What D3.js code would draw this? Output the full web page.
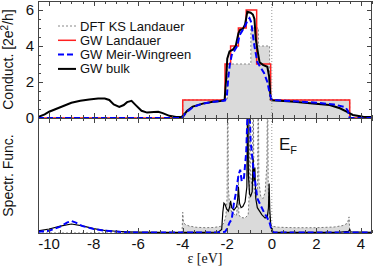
<!DOCTYPE html>
<html>
<head>
<meta charset="utf-8">
<script src="https://cdn.jsdelivr.net/npm/d3@7"></script>
<style>
  body { margin: 0; background: #fff; }
  svg { display: block; font-family: "Liberation Sans", Arial, sans-serif; }
</style>
</head>
<body>
<svg id="chart" width="374" height="266"></svg>
<script>
// ---- Conductance (top panel), step functions ----
const dftCondE = [-10.5, -4, -2, -0.94, -0.6, -0.1, 3.5, 4.5];
const dftCondG = [0, 1, 3, 5, 4, 1, 0, 0];

const gwCondE = [-10.5, -4, -2.1, -1.85, -1.5, -1.15, -0.68, -0.05, 3.5, 4.5];
const gwCondG = [0, 1, 3, 4, 5, 6, 3, 1, 0, 0];

// Meir-Wingreen conductance
const mwCondE = [-10.5, -4.02, -4.0, -3.85, -3.6, -3.3, -3.0, -2.5, -2.1, -2.02, -1.95, -1.88, -1.8, -1.7, -1.55, -1.45, -1.35, -1.2, -1.1, -1.0, -0.92, -0.85, -0.78, -0.65, -0.5, -0.35, -0.2, -0.1, -0.02, 0.2, 1.0, 2.0, 2.8, 3.3, 3.42, 3.48, 3.55, 4.5];
const mwCondG = [0, 0, 0.05, 0.3, 0.55, 0.72, 0.82, 0.92, 0.97, 1.2, 2.3, 3.0, 3.5, 3.7, 4.0, 4.6, 4.8, 5.1, 5.4, 5.55, 5.3, 4.6, 4.0, 3.1, 2.8, 2.5, 2.0, 1.4, 1.05, 0.98, 0.93, 0.85, 0.75, 0.6, 0.4, 0.05, 0, 0];

// bulk conductance
const bulkCondE = [-10.5, -10.2, -10.0, -9.5, -9.0, -8.6, -8.2, -7.8, -7.5, -7.3, -7.1, -6.85, -6.65, -6.5, -6.3, -6.1, -5.85, -5.6, -5.3, -5.1, -4.9, -4.6, -4.3, -4.1, -4.0, -3.8, -3.55, -3.1, -2.65, -2.3, -2.12, -2.06, -2.0, -1.9, -1.75, -1.62, -1.5, -1.42, -1.3, -1.2, -1.1, -0.95, -0.85, -0.78, -0.72, -0.62, -0.55, -0.4, -0.2, -0.12, -0.06, 0, 0.36, 1.0, 1.84, 2.6, 3.06, 3.36, 3.64, 4.1, 4.5];
const bulkCondG = [0.05, 0.2, 0.35, 0.6, 0.85, 0.96, 1.03, 1.08, 1.08, 1.0, 0.75, 0.62, 0.72, 0.88, 0.95, 0.7, 0.4, 0.3, 0.33, 0.35, 0.27, 0.12, 0.05, 0.05, 0.1, 0.4, 0.63, 0.8, 0.9, 0.95, 1.0, 2.0, 3.3, 3.7, 3.8, 4.0, 4.7, 4.9, 4.95, 5.2, 5.9, 5.85, 5.75, 5.5, 4.4, 3.6, 3.1, 2.95, 2.85, 2.3, 1.2, 0.98, 0.96, 0.9, 0.81, 0.72, 0.54, 0.35, 0.17, 0.07, 0.05];

// ---- Spectral function (bottom panel), arbitrary units ----
const dftSpecE = [-10.5, -4.03, -4.0, -3.97, -3.9, -3.7, -3.4, -3.0, -2.6, -2.3, -2.15, -2.06, -2.01, -1.98, -1.95, -1.9, -1.8, -1.6, -1.52, -1.5, -1.48, -1.4, -1.2, -1.06, -1.01, -0.99, -0.96, -0.9, -0.86, -0.84, -0.8, -0.72, -0.64, -0.61, -0.58, -0.5, -0.4, -0.3, -0.22, -0.19, -0.16, -0.12, -0.08, -0.04, 0.05, 0.3, 1.0, 2.0, 2.8, 3.2, 3.4, 3.47, 3.5, 3.53, 4.5];
const dftSpecA = [0, 0, 1.8, 1.0, 0.75, 0.6, 0.5, 0.46, 0.48, 0.58, 0.85, 1.5, 3, 14, 4, 2.4, 1.8, 1.5, 2.5, 5.0, 1.6, 1.35, 1.3, 1.6, 3.5, 14, 5, 4.2, 6, 14, 4, 3, 4, 14, 4.5, 3.2, 3.0, 3.5, 6, 14, 4, 2, 1.0, 0.7, 0.58, 0.5, 0.46, 0.46, 0.52, 0.65, 0.85, 1.4, 0.2, 0, 0];

const mwSpecE = [-10.5, -10, -9.5, -9.2, -9.0, -8.8, -8.5, -8, -7.5, -7, -6.5, -6, -4, -2.5, -2.1, -2.0, -1.9, -1.8, -1.7, -1.6, -1.5, -1.42, -1.35, -1.25, -1.15, -1.08, -1.05, -1.0, -0.95, -0.85, -0.75, -0.65, -0.5, -0.35, -0.2, -0.1, 0, 0.1, 3.4, 4.5];
const mwSpecA = [0.1, 0.2, 0.55, 0.9, 1.05, 0.9, 0.6, 0.35, 0.2, 0.12, 0.06, 0.04, 0.04, 0.05, 0.1, 0.4, 0.9, 1.2, 2.6, 3.6, 5.0, 5.5, 4.5, 4.8, 7, 11, 14, 11, 8, 6, 4.5, 3.0, 2.4, 1.8, 1.3, 0.9, 0.2, 0.05, 0.05, 0.04];

const bulkSpecE = [-10.5, -10.0, -9.5, -9.0, -8.5, -8.0, -7.5, -7.0, -6.5, -6.0, -5.0, -4.0, -3.0, -2.4, -2.25, -2.2, -2.15, -2.1, -2.03, -1.95, -1.89, -1.85, -1.8, -1.7, -1.58, -1.53, -1.5, -1.45, -1.38, -1.3, -1.2, -1.12, -1.08, -1.05, -1.0, -0.95, -0.88, -0.84, -0.8, -0.76, -0.72, -0.65, -0.55, -0.45, -0.3, -0.2, -0.15, -0.12, -0.09, -0.05, 0.0, 0.1, 1.0, 2.0, 3.0, 3.45, 3.5, 3.55, 4.5];
const bulkSpecA = [0.18, 0.35, 0.6, 0.78, 0.62, 0.38, 0.22, 0.15, 0.1, 0.07, 0.05, 0.05, 0.05, 0.08, 0.3, 1.8, 2.6, 2.5, 2.1, 1.9, 2.3, 2.8, 2.2, 2.0, 2.3, 3.0, 4.0, 2.6, 2.2, 2.3, 2.7, 4.0, 14, 5.0, 3.4, 3.2, 3.6, 6.5, 4.5, 5.7, 3.0, 2.2, 1.9, 1.6, 1.3, 1.4, 2.2, 4.3, 2.0, 0.8, 0.15, 0.06, 0.05, 0.05, 0.06, 0.15, 0.3, 0.1, 0.05];

const xTickLabels = [-10, -8, -6, -4, -2, 0, 2, 4];
const condTickLabels = [0, 2, 4, 6];

const legendItems = [
  { label: "DFT KS Landauer", color: "#888", width: 1, dash: "2,2" },
  { label: "GW Landauer", color: "#ff2020", width: 1.5, dash: null },
  { label: "GW Meir-Wingreen", color: "#0000ff", width: 2, dash: "6,3" },
  { label: "GW bulk", color: "#000", width: 2, dash: null }
];

const zip = (xs, ys) => xs.map((v, i) => [v, ys[i]]);

const svg = d3.select("#chart");
const left = 38, right = 372, topY = 1, midY = 118, botY = 233;

const x = d3.scaleLinear().domain([-10.5, 4.5]).range([left, right]);
const yC = d3.scaleLinear().domain([0, 6.5]).range([midY, topY]);
const yS = d3.scaleLinear().domain([0, 10]).range([botY, midY]);

const defs = svg.append("defs");
defs.append("clipPath").attr("id", "clipTop")
  .append("rect").attr("x", left).attr("y", topY).attr("width", right - left).attr("height", midY - topY);
defs.append("clipPath").attr("id", "clipBot")
  .append("rect").attr("x", left).attr("y", midY).attr("width", right - left).attr("height", botY - midY);

// top panel
const gTop = svg.append("g").attr("clip-path", "url(#clipTop)");
const stepLine = d3.line().x(d => x(d[0])).y(d => yC(d[1])).curve(d3.curveStepAfter);
const condLine = d3.line().x(d => x(d[0])).y(d => yC(d[1]));
const stepArea = d3.area().x(d => x(d[0])).y0(yC(0)).y1(d => yC(d[1])).curve(d3.curveStepAfter);

gTop.append("path").datum(zip(dftCondE, dftCondG))
  .attr("d", stepArea).attr("fill", "#dadada");
gTop.append("path").datum(zip(dftCondE, dftCondG))
  .attr("d", stepLine).attr("fill", "none").attr("stroke", "#888").attr("stroke-width", 1).attr("stroke-dasharray", "2,2");
gTop.append("path").datum(zip(gwCondE, gwCondG))
  .attr("d", stepLine).attr("fill", "none").attr("stroke", "#ff2020").attr("stroke-width", 1.5);
gTop.append("path").datum(zip(bulkCondE, bulkCondG))
  .attr("d", condLine).attr("fill", "none").attr("stroke", "#000").attr("stroke-width", 2);
gTop.append("path").datum(zip(mwCondE, mwCondG))
  .attr("d", condLine).attr("fill", "none").attr("stroke", "#0000ff").attr("stroke-width", 2).attr("stroke-dasharray", "6,3");

// bottom panel
const gBot = svg.append("g").attr("clip-path", "url(#clipBot)");
const specLine = d3.line().x(d => x(d[0])).y(d => yS(d[1]));
const specArea = d3.area().x(d => x(d[0])).y0(yS(0)).y1(d => yS(d[1]));

gBot.append("path").datum(zip(dftSpecE, dftSpecA))
  .attr("d", specArea).attr("fill", "#dadada");
gBot.append("path").datum(zip(dftSpecE, dftSpecA))
  .attr("d", specLine).attr("fill", "none").attr("stroke", "#777").attr("stroke-width", 1).attr("stroke-dasharray", "2,2");
gBot.append("path").datum(zip(bulkSpecE, bulkSpecA))
  .attr("d", specLine).attr("fill", "none").attr("stroke", "#000").attr("stroke-width", 1.2);
gBot.append("path").datum(zip(mwSpecE, mwSpecA))
  .attr("d", specLine).attr("fill", "none").attr("stroke", "#0000ff").attr("stroke-width", 2).attr("stroke-dasharray", "6,3");

// Fermi level
svg.append("line")
  .attr("x1", x(0)).attr("x2", x(0)).attr("y1", topY).attr("y2", botY)
  .attr("stroke", "#999").attr("stroke-width", 1).attr("stroke-dasharray", "1,2");

// ticks
const xMinor = d3.range(-10.5, 4.51, 0.5);
const yMinor = d3.range(0, 6.51, 0.5);
const tickG = svg.append("g").attr("stroke", "#444").attr("stroke-width", 1);
const isMajorX = v => Math.abs(v % 2) < 1e-6;
const isMajorY = v => Math.abs(v % 2) < 1e-6;
[topY, midY, botY].forEach((yy, k) => {
  xMinor.forEach(v => {
    const len = isMajorX(v) ? 5 : 3;
    const px = Math.round(x(v)) + 0.5;
    if (k !== 2) tickG.append("line").attr("x1", px).attr("x2", px).attr("y1", yy).attr("y2", yy + len);
    if (k !== 0) tickG.append("line").attr("x1", px).attr("x2", px).attr("y1", yy).attr("y2", yy - len);
  });
});
yMinor.forEach(v => {
  const len = isMajorY(v) ? 5 : 3;
  const py = Math.round(yC(v)) + 0.5;
  tickG.append("line").attr("x1", left).attr("x2", left + len).attr("y1", py).attr("y2", py);
  tickG.append("line").attr("x1", right).attr("x2", right - len).attr("y1", py).attr("y2", py);
});

// frames
[[topY, midY], [midY, botY]].forEach(([a, b]) => {
  svg.append("rect").attr("x", left + 0.5).attr("y", a + 0.5)
    .attr("width", right - left - 1).attr("height", b - a)
    .attr("fill", "none").attr("stroke", "#444").attr("stroke-width", 1);
});

// tick labels
svg.append("g").selectAll("text").data(xTickLabels).join("text")
  .attr("x", d => x(d)).attr("y", 249)
  .attr("text-anchor", "middle").attr("font-size", 15).attr("fill", "#111")
  .text(d => d);
svg.append("g").selectAll("text").data(condTickLabels).join("text")
  .attr("x", 34).attr("y", d => yC(d) + 5)
  .attr("text-anchor", "end").attr("font-size", 15).attr("fill", "#111")
  .text(d => d);

// axis titles
svg.append("text")
  .attr("transform", `translate(13,${(topY + midY) / 2}) rotate(-90)`)
  .attr("text-anchor", "middle").attr("font-size", 14).attr("fill", "#111")
  .html("Conduct. [2e<tspan dy='-5' font-size='10'>2</tspan><tspan dy='5'>/h]</tspan>");
svg.append("text")
  .attr("transform", `translate(13,${(midY + botY) / 2}) rotate(-90)`)
  .attr("text-anchor", "middle").attr("font-size", 14).attr("fill", "#111")
  .text("Spectr. Func.");
svg.append("text")
  .attr("x", 205).attr("y", 263)
  .attr("text-anchor", "middle").attr("font-size", 14).attr("fill", "#111")
  .style("font-family", "'Liberation Serif', 'Times New Roman', serif")
  .text("ε [eV]");

// E_F label
const ef = svg.append("text").attr("x", 279).attr("y", 150).attr("font-size", 17).attr("fill", "#111");
ef.append("tspan").text("E");
ef.append("tspan").attr("dy", 4).attr("font-size", 11).text("F");

// legend
const leg = svg.append("g");
legendItems.forEach((d, i) => {
  const yy = 26 + i * 14.3;
  leg.append("line").attr("x1", 58).attr("x2", 76).attr("y1", yy).attr("y2", yy)
    .attr("stroke", d.color).attr("stroke-width", d.width)
    .attr("stroke-dasharray", d.dash);
  leg.append("text").attr("x", 80).attr("y", yy + 4.5)
    .attr("font-size", 13).attr("fill", "#111").text(d.label);
});
</script>
</body>
</html>
